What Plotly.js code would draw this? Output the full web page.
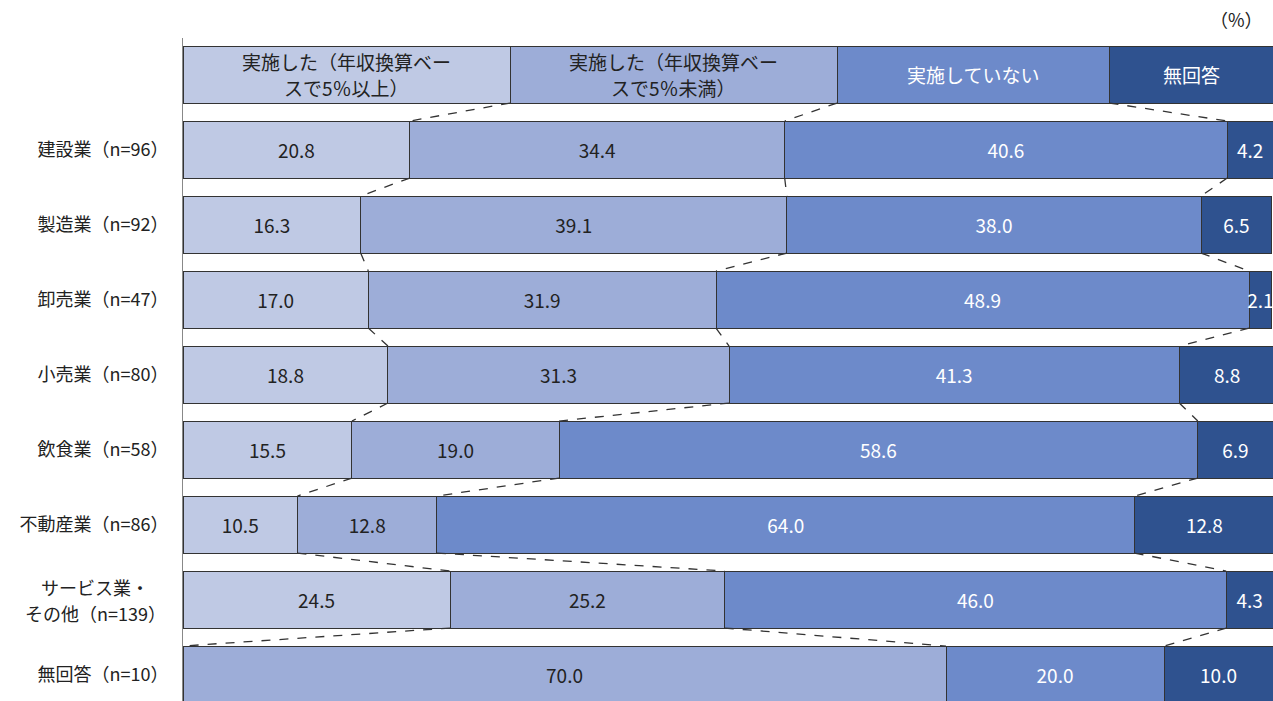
<!DOCTYPE html>
<html>
<head>
<meta charset="utf-8">
<script src="https://cdn.plot.ly/plotly-3.0.1.min.js"></script>
<style>html,body{margin:0;padding:0;background:#fff;}#chart{width:1273px;height:701px;}</style>
</head>
<body>
<div id="chart"></div>
<script>
const categories = ["建設業（n=96）","製造業（n=92）","卸売業（n=47）","小売業（n=80）","飲食業（n=58）","不動産業（n=86）","サービス業・<br>その他（n=139）","無回答（n=10）"];
const seriesNames = ["実施した（年収換算ベー<br>スで5％以上）","実施した（年収換算ベー<br>スで5％未満）","実施していない","無回答"];
const above5 = [20.8,16.3,17.0,18.8,15.5,10.5,24.5,0];
const below5 = [34.4,39.1,31.9,31.3,19.0,12.8,25.2,70.0];
const notDone = [40.6,38.0,48.9,41.3,58.6,64.0,46.0,20.0];
const noAnswer = [4.2,6.5,2.1,8.8,6.9,12.8,4.3,10.0];
const headerWidths = [30,30,25,15];

const series = [above5, below5, notDone, noAnswer];
const colors = ["#BFC9E4","#9DADD8","#6D8ACA","#2F528F"];
const textColors = ["#222222","#222222","#ffffff","#ffffff"];
const rowY = categories.map((c,i)=>i+1);
const fam = '"Noto Sans CJK JP", "Noto Sans", sans-serif';

const traces = [];
series.forEach((vals,s)=>{
  traces.push({
    type:'bar', orientation:'h',
    x:[headerWidths[s]].concat(vals),
    y:[0].concat(rowY),
    text:[''].concat(vals.map(v=> v>0 ? v.toFixed(1) : '')),
    textposition:'inside', insidetextanchor:'middle', constraintext:'none',
    textfont:{family:fam, size:19, color:textColors[s]},
    marker:{color:colors[s], line:{color:'#333333', width:1}},
    hoverinfo:'skip', showlegend:false, cliponaxis:true
  });
});

const annotations = [];
// header labels (one annotation per line for wider line spacing)
let acc = 0;
seriesNames.forEach((name,s)=>{
  const cx = acc + headerWidths[s]/2;
  acc += headerWidths[s];
  const lines = name.split('<br>');
  lines.forEach((ln,j)=>{
    annotations.push({text:ln, x:cx, y:0, xref:'x', yref:'y', showarrow:false,
      xanchor:'center', yanchor:'middle', yshift:(lines.length-1)*13 - j*26,
      font:{family:fam, size:19, color:textColors[s]}});
  });
});
// category labels
const tickText = categories.map(c=> c.includes('<br>') ? '' : c);
categories.forEach((c,i)=>{
  if (!c.includes('<br>')) return;
  const lines = c.split('<br>');
  lines.forEach((ln,j)=>{
    annotations.push({text:ln, x:0, y:rowY[i], xref:'paper', yref:'y', showarrow:false,
      xanchor:'center', yanchor:'middle', xshift:-88, yshift:(lines.length-1)*13 - j*26,
      font:{family:fam, size:18, color:'#222222'}});
  });
});
annotations.push({text:'（%）', xref:'paper', yref:'paper', x:1, y:1, xanchor:'right', yanchor:'bottom',
    yshift:4, xshift:-8, showarrow:false, font:{family:fam, size:18, color:'#222222'}});

// connector lines
const half = 0.38;
const rows = [headerWidths].concat(categories.map((c,i)=>series.map(a=>a[i])));
const shapes = [];
for (let r=0; r<rows.length-1; r++){
  const a = rows[r], b = rows[r+1];
  let ca=0, cb=0;
  for (let k=0;k<3;k++){
    ca += a[k]; cb += b[k];
    shapes.push({type:'line', xref:'x', yref:'y', x0:ca, y0:r+half, x1:cb, y1:r+1-half,
      line:{color:'#333333', width:1.3, dash:'dash'}});
  }
}

const layout = {
  width:1273, height:701,
  margin:{l:183, r:0, t:38, b:0},
  paper_bgcolor:'#ffffff', plot_bgcolor:'#ffffff',
  barmode:'stack', bargap:0.24,
  font:{family:fam, color:'#222222'},
  xaxis:{range:[0,100], showgrid:false, zeroline:false, showticklabels:false, showline:false, fixedrange:true},
  yaxis:{range:[8.353,-0.487], tickvals:rowY, ticktext:tickText, showgrid:false, zeroline:false,
    showline:true, linecolor:'#888888', linewidth:1, ticks:'', ticklabelstandoff:10,
    tickfont:{size:18, color:'#222222'}},
  shapes:shapes,
  annotations:annotations
};
Plotly.newPlot('chart', traces, layout, {displayModeBar:false, staticPlot:true});
</script>
</body>
</html>
